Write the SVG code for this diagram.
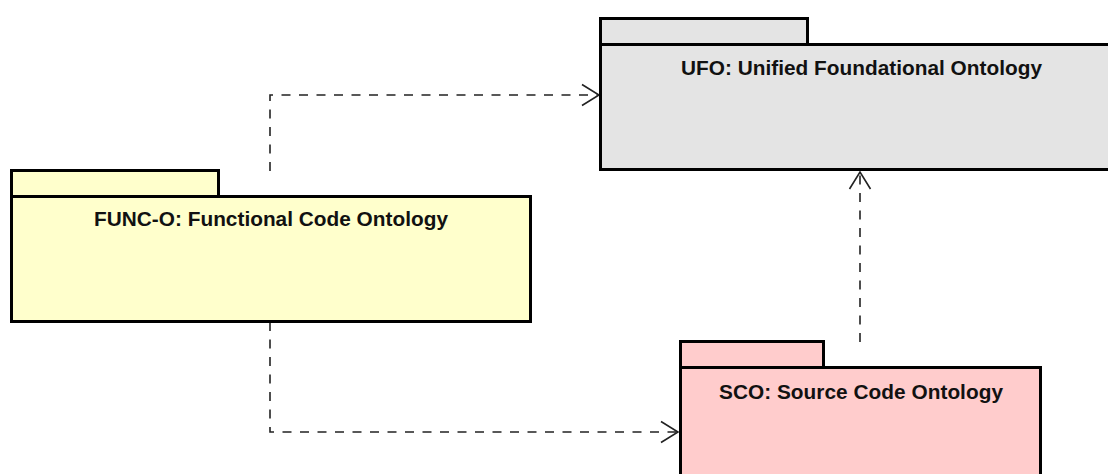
<svg xmlns="http://www.w3.org/2000/svg" width="1108" height="474" viewBox="0 0 1108 474">
  <style>
    .pkg { stroke: #000; stroke-width: 3; }
    .ufo { fill: #e4e4e4; }
    .func { fill: #ffffcc; }
    .sco { fill: #ffcccc; }
    .label { font-family: "Liberation Sans", Arial, sans-serif; font-size: 20.8px; font-weight: bold; fill: #111; text-anchor: middle; }
    .dep { fill: none; stroke: #222; stroke-width: 1.6; stroke-dasharray: 9 8.5; }
  </style>
  <defs>
    <marker id="open" viewBox="0 0 20 24" refX="18" refY="12" markerWidth="20" markerHeight="24" markerUnits="userSpaceOnUse" orient="auto">
      <path d="M1,1.5 L18,12 L1,22.5" fill="none" stroke="#222" stroke-width="1.6"/>
    </marker>
  </defs>
  <rect width="1108" height="474" fill="#fff"/>

  <!-- dependency connectors -->
  <g id="connectors">
    <path class="dep" d="M270,171 L270,95 L599,95" marker-end="url(#open)"/>
    <path class="dep" d="M270,322 L270,432 L678,432" marker-end="url(#open)"/>
    <path class="dep" d="M860,342 L860,172" marker-end="url(#open)"/>
  </g>

  <g id="ufo">
    <rect class="pkg ufo" x="600.5" y="18.5" width="207" height="26"/>
    <rect class="pkg ufo" x="600.5" y="44.5" width="520" height="125"/>
    <text class="label" x="861.5" y="75" textLength="361" lengthAdjust="spacing">UFO: Unified Foundational Ontology</text>
  </g>

  <g id="func-o">
    <rect class="pkg func" x="11.5" y="170.5" width="207" height="26"/>
    <rect class="pkg func" x="11.5" y="196.5" width="519" height="125"/>
    <text class="label" x="271" y="226" textLength="354" lengthAdjust="spacing">FUNC-O: Functional Code Ontology</text>
  </g>

  <g id="sco">
    <rect class="pkg sco" x="680.5" y="341.5" width="143" height="26"/>
    <rect class="pkg sco" x="680.5" y="367.5" width="360" height="130"/>
    <text class="label" x="861" y="399" textLength="284" lengthAdjust="spacing">SCO: Source Code Ontology</text>
  </g>
</svg>
